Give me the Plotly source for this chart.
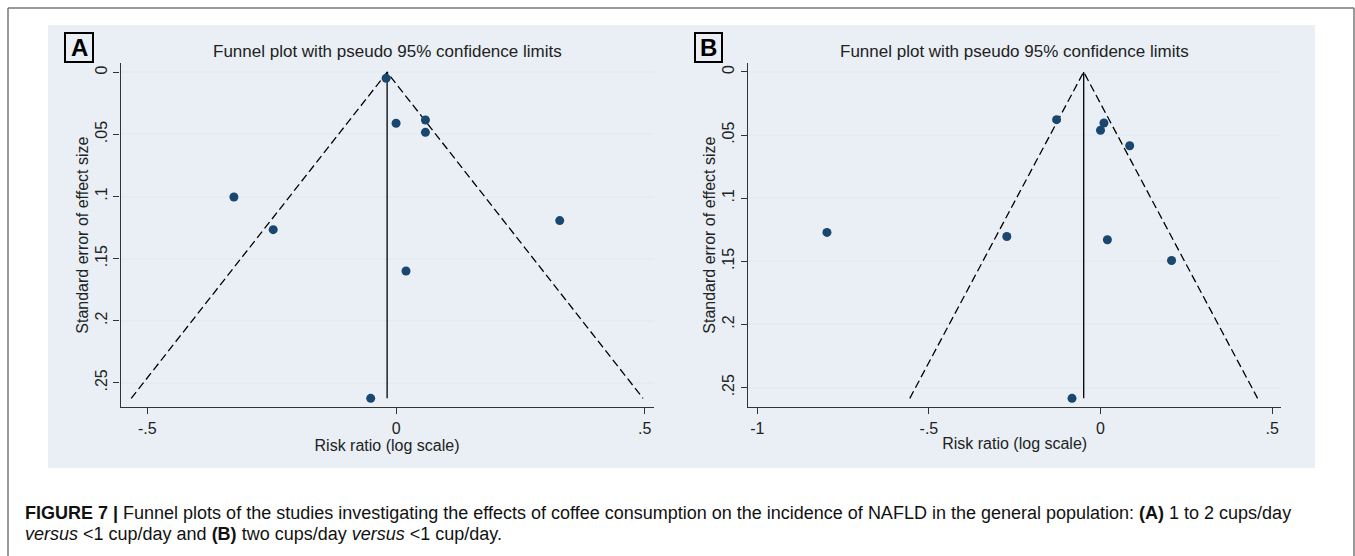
import plotly.graph_objects as go

W, H = 1355, 556

# ---------------- data ----------------
# Panel A: 1 to 2 cups/day vs <1 cup/day
a_log_rr = [-0.020, 0.000, 0.059, 0.059, -0.326, -0.247, 0.329, 0.020, -0.051]
a_se     = [0.0048, 0.041, 0.0384, 0.0483, 0.1004, 0.1267, 0.1194, 0.160, 0.2625]
a_pooled = -0.018

# Panel B: two cups/day vs <1 cup/day
b_log_rr = [-0.128, 0.010, 0.000, 0.085, -0.797, -0.273, 0.020, 0.207, -0.083]
b_se     = [0.0378, 0.0404, 0.0462, 0.0584, 0.1271, 0.1303, 0.1329, 0.1493, 0.2585]
b_pooled = -0.049

y_tickvals = [0, 0.05, 0.1, 0.15, 0.2, 0.25]
y_ticktext = ["0", ".05", ".1", ".15", ".2", ".25"]
a_x_tickvals = [-0.5, 0, 0.5]
a_x_ticktext = ["-.5", "0", ".5"]
b_x_tickvals = [-1, -0.5, 0, 0.5]
b_x_ticktext = ["-1", "-.5", "0", ".5"]

panel_title = "Funnel plot with pseudo 95% confidence limits"
x_title = "Risk ratio (log scale)"
y_title = "Standard error of effect size"

# ---------------- styles ----------------
BG = "#E9EFF5"
GRID = "#E2ECF1"
NAVY = "#1A476F"
FONT = "Liberation Sans, Arial, sans-serif"


def px(x):
    return x / W


def py(y):
    return 1 - y / H


fig = go.Figure()


def add_panel(xs, ses, pooled, xaxis, yaxis):
    se_max = max(ses)
    lo = pooled - 1.96 * se_max
    hi = pooled + 1.96 * se_max
    # pseudo 95% limits (dashed)
    fig.add_trace(go.Scatter(
        x=[lo, pooled, hi], y=[se_max, 0, se_max], mode="lines",
        line=dict(color="black", width=1.3, dash="8px,4px"),
        xaxis=xaxis, yaxis=yaxis, showlegend=False, hoverinfo="skip"))
    # pooled estimate (solid vertical)
    fig.add_trace(go.Scatter(
        x=[pooled, pooled], y=[0, se_max], mode="lines",
        line=dict(color="black", width=1.3),
        xaxis=xaxis, yaxis=yaxis, showlegend=False, hoverinfo="skip"))
    # studies
    fig.add_trace(go.Scatter(
        x=xs, y=ses, mode="markers",
        marker=dict(color=NAVY, size=9, line=dict(width=0)),
        xaxis=xaxis, yaxis=yaxis, showlegend=False))


add_panel(a_log_rr, a_se, a_pooled, "x", "y")
add_panel(b_log_rr, b_se, b_pooled, "x2", "y2")

common_x = dict(
    showgrid=False, zeroline=False, showline=True, linecolor="#333333",
    linewidth=1.3, ticks="outside", ticklen=6, tickcolor="#333333",
    tickfont=dict(size=16, color="#222222", family=FONT),
    title=dict(text=x_title, font=dict(size=16, color="#222222", family=FONT), standoff=2),
)
common_y = dict(
    showgrid=True, gridcolor=GRID, gridwidth=1.5, zeroline=False,
    showline=True, linecolor="#333333", linewidth=1.3, ticks="outside",
    ticklen=6, tickcolor="#333333", tickangle=-90,
    tickvals=y_tickvals, ticktext=y_ticktext,
    tickfont=dict(size=16, color="#222222", family=FONT),
    title=dict(text=y_title, font=dict(size=16, color="#222222", family=FONT), standoff=0),
)

fig.update_layout(
    width=W, height=H, margin=dict(l=0, r=0, t=0, b=0),
    paper_bgcolor="white", plot_bgcolor="white",
    font=dict(family=FONT, color="#222222"),
    xaxis=dict(domain=[px(120.5), px(653.5)], range=[-0.554, 0.5175],
               tickvals=a_x_tickvals, ticktext=a_x_ticktext, anchor="y", **common_x),
    yaxis=dict(domain=[py(407.3), py(63)], range=[0.2697, -0.0075], anchor="x", **common_y),
    xaxis2=dict(domain=[px(748), px(1281.4)], range=[-1.027, 0.527],
                tickvals=b_x_tickvals, ticktext=b_x_ticktext, anchor="y2", **common_x),
    yaxis2=dict(domain=[py(407.3), py(63)], range=[0.2656, -0.0071], anchor="x2", **common_y),
)

shapes = [
    # graph region background
    dict(type="rect", xref="paper", yref="paper", x0=px(48), x1=px(1315),
         y0=py(468), y1=py(25), fillcolor=BG, line=dict(width=0), layer="below"),
    # outer frame (top, left, right)
    dict(type="line", xref="paper", yref="paper", x0=px(8), x1=px(1354), y0=py(8), y1=py(8),
         line=dict(color="#777777", width=1.5)),
    dict(type="line", xref="paper", yref="paper", x0=px(8), x1=px(8), y0=py(8), y1=0,
         line=dict(color="#777777", width=1.5)),
    dict(type="line", xref="paper", yref="paper", x0=px(1354), x1=px(1354), y0=py(8), y1=0,
         line=dict(color="#777777", width=1.5)),
    # panel letter boxes
    dict(type="rect", xref="paper", yref="paper", x0=px(65), x1=px(93), y0=py(62), y1=py(33),
         line=dict(color="black", width=2), fillcolor=BG),
    dict(type="rect", xref="paper", yref="paper", x0=px(695), x1=px(722), y0=py(62), y1=py(33),
         line=dict(color="black", width=2), fillcolor=BG),
]

caption_line1 = ("<b>FIGURE 7 |</b> Funnel plots of the studies investigating the effects of coffee consumption "
                 "on the incidence of NAFLD in the general population: <b>(A)</b> 1 to 2 cups/day")
caption_line2 = "<i>versus</i> &lt;1 cup/day and <b>(B)</b> two cups/day <i>versus</i> &lt;1 cup/day."

annotations = [
    dict(text="<b>A</b>", x=px(79), y=py(47.5), xref="paper", yref="paper",
         showarrow=False, font=dict(size=24, color="black", family=FONT), xanchor="center", yanchor="middle"),
    dict(text="<b>B</b>", x=px(708.5), y=py(47.5), xref="paper", yref="paper",
         showarrow=False, font=dict(size=24, color="black", family=FONT), xanchor="center", yanchor="middle"),
    dict(text=panel_title, x=px(387), y=py(52), xref="paper", yref="paper",
         showarrow=False, font=dict(size=17, color="#222222", family=FONT), xanchor="center", yanchor="middle"),
    dict(text=panel_title, x=px(1014.5), y=py(52), xref="paper", yref="paper",
         showarrow=False, font=dict(size=17, color="#222222", family=FONT), xanchor="center", yanchor="middle"),
    dict(text=caption_line1,
         x=px(23), y=py(513), xref="paper", yref="paper", showarrow=False,
         font=dict(size=18, color="#111111", family=FONT), xanchor="left", yanchor="middle"),
    dict(text=caption_line2,
         x=px(23), y=py(534), xref="paper", yref="paper", showarrow=False,
         font=dict(size=18, color="#111111", family=FONT), xanchor="left", yanchor="middle"),
]

fig.update_layout(shapes=shapes, annotations=annotations)

fig.write_html("out.html")
